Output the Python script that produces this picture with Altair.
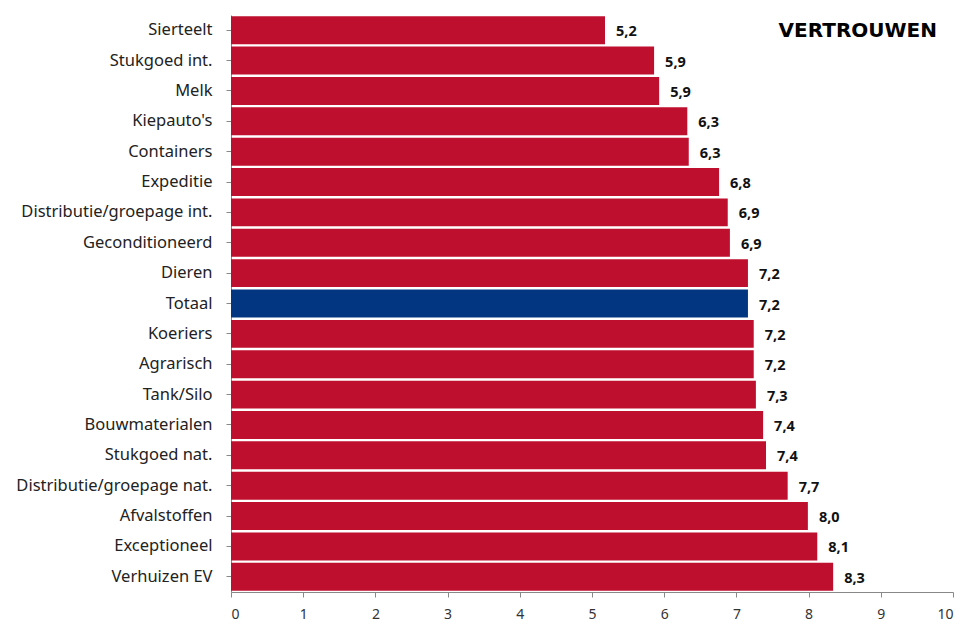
import altair as alt
import pandas as pd

categories = ["Sierteelt", "Stukgoed int.", "Melk", "Kiepauto's", "Containers", "Expeditie",
              "Distributie/groepage int.", "Geconditioneerd", "Dieren", "Totaal", "Koeriers",
              "Agrarisch", "Tank/Silo", "Bouwmaterialen", "Stukgoed nat.",
              "Distributie/groepage nat.", "Afvalstoffen", "Exceptioneel", "Verhuizen EV"]
values = [5.18, 5.86, 5.93, 6.32, 6.34, 6.76, 6.88, 6.91, 7.16, 7.16, 7.24,
          7.24, 7.27, 7.37, 7.41, 7.71, 7.99, 8.12, 8.34]
labels = ["5,2", "5,9", "5,9", "6,3", "6,3", "6,8", "6,9", "6,9", "7,2", "7,2", "7,2",
          "7,2", "7,3", "7,4", "7,4", "7,7", "8,0", "8,1", "8,3"]
groups = ["Totaal" if c == "Totaal" else "Sector" for c in categories]

df = pd.DataFrame({"cat": categories, "val": values, "lab": labels, "grp": groups})

y_enc = alt.Y("cat:N", sort=categories, title=None,
              scale=alt.Scale(paddingInner=0.08, paddingOuter=0.04),
              axis=alt.Axis(labelFont="Noto Sans", labelFontSize=16.5, labelColor="#222222",
                            labelPadding=14, tickSize=5, tickColor="#888888",
                            domainColor="#888888", labelLimit=300))
x_enc = alt.X("val:Q", title=None, scale=alt.Scale(domain=[0, 10], nice=False),
              axis=alt.Axis(values=list(range(11)), format="d", grid=False,
                            labelFont="Noto Sans", labelFontSize=14, labelColor="#333333",
                            labelPadding=10, tickSize=5, tickColor="#888888",
                            domainColor="#888888"))

bars = alt.Chart(df).mark_bar().encode(
    y=y_enc, x=x_enc,
    color=alt.Color("grp:N", scale=alt.Scale(domain=["Sector", "Totaal"],
                                             range=["#BE0F2E", "#023681"]), legend=None)
)

text = alt.Chart(df).mark_text(align="left", baseline="middle", dx=11, dy=2,
                               font="Noto Sans", fontSize=14.5, fontWeight="bold",
                               color="#111111").encode(
    y=alt.Y("cat:N", sort=categories), x="val:Q", text="lab:N")

title = alt.Chart(pd.DataFrame({"t": ["VERTROUWEN"]})).mark_text(
    align="right", baseline="middle", font="DejaVu Sans", fontSize=20, fontWeight="bold",
    color="#000000").encode(x=alt.value(706), y=alt.value(16), text="t:N")

chart = alt.layer(bars, text, title).properties(
    width=722, height=577,
    autosize=alt.AutoSizeParams(type="none"),
    padding={"left": 223, "top": 7, "right": 10, "bottom": 30}
).configure_view(stroke=None).configure_axis(domainWidth=1)

chart.save("out.html", embed_options={"renderer": "svg", "actions": False})
